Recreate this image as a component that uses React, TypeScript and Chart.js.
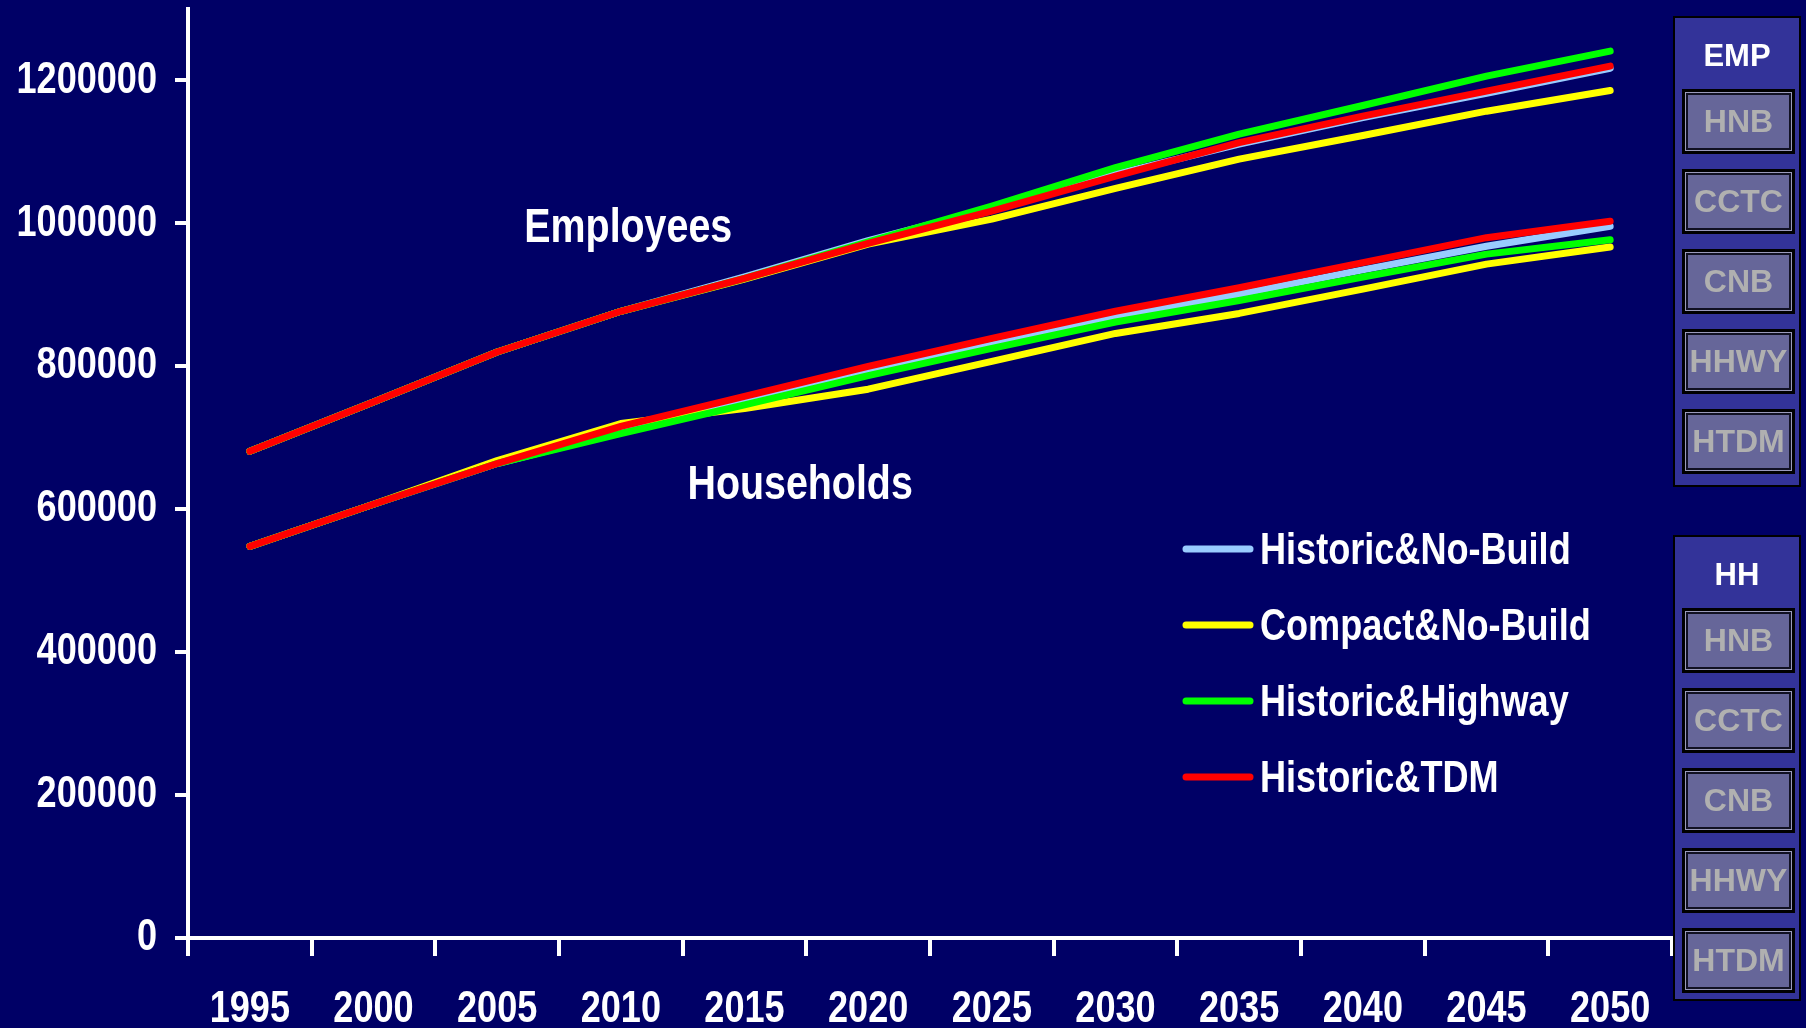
import React, { useEffect, useRef } from 'react';
import { Chart, registerables } from 'chart.js';

Chart.register(...registerables);

const years = ['1995', '2000', '2005', '2010', '2015', '2020', '2025', '2030', '2035', '2040', '2045', '2050'];

const seriesNames = ['Historic&No-Build', 'Compact&No-Build', 'Historic&Highway', 'Historic&TDM'];
const seriesColors = ['#99CCFF', '#FFFF00', '#00FF00', '#FF0000'];
const seriesOrder = [4, 3, 2, 1];

// Employees
const empHNB = [681000, 750000, 820000, 877000, 925000, 976000, 1021000, 1069000, 1111000, 1148000, 1182000, 1217000];
const empCCTC = [681000, 750000, 820000, 877000, 922000, 971000, 1006000, 1049000, 1090000, 1123000, 1157000, 1186000];
const empHHWY = [681000, 750000, 820000, 877000, 923000, 974000, 1024000, 1078000, 1125000, 1165000, 1206000, 1241000];
const empHTDM = [681000, 750000, 820000, 877000, 923000, 972000, 1017000, 1066000, 1113000, 1150000, 1185000, 1220000];

// Households
const hhHNB = [548000, 607000, 664000, 708000, 752000, 793000, 830000, 869000, 901000, 935000, 968000, 996000];
const hhCCTC = [548000, 607000, 668000, 720000, 741000, 768000, 807000, 846000, 874000, 908000, 943000, 967000];
const hhHHWY = [548000, 607000, 664000, 706000, 746000, 787000, 825000, 862000, 892000, 925000, 957000, 977000];
const hhHTDM = [548000, 607000, 664000, 716000, 758000, 800000, 839000, 877000, 910000, 945000, 980000, 1003000];

const empSeries = [empHNB, empCCTC, empHHWY, empHTDM];
const hhSeries = [hhHNB, hhCCTC, hhHHWY, hhHTDM];

const yTickValues = [0, 200000, 400000, 600000, 800000, 1000000, 1200000];

const groupLabels = ['Employees', 'Households'];
// anchor: [category index, value] of text centre / baseline
const groupAnchors: [number, number][] = [[3.06, 974000], [4.45, 615000]];

const empButtons = ['HNB', 'CCTC', 'CNB', 'HHWY', 'HTDM'];
const hhButtons = ['HNB', 'CCTC', 'CNB', 'HHWY', 'HTDM'];

const WIDE = '"Liberation Sans", Arial, sans-serif';
const NARROW_SCALE = 0.82;
const BG = '#000066';

function narrowText(ctx: any, text: string, x: number, y: number, size: number, align: 'left' | 'center' | 'right', baseline: string) {
  ctx.save();
  ctx.font = `bold ${size}px ${WIDE}`;
  ctx.textAlign = align;
  ctx.textBaseline = baseline;
  ctx.translate(x, y);
  ctx.scale(NARROW_SCALE, 1);
  ctx.fillText(text, 0, 0);
  ctx.restore();
}

const overlayPlugin = {
  id: 'overlay',
  afterDraw(chart: any) {
    const ctx = chart.ctx;
    const xs = chart.scales.x;
    const ys = chart.scales.y;
    const area = chart.chartArea;
    ctx.save();
    ctx.fillStyle = '#FFFFFF';
    // y tick labels
    ys.ticks.forEach((t: any) => {
      narrowText(ctx, String(t.value), area.left - 31, ys.getPixelForValue(t.value), 44, 'right', 'middle');
    });
    // x tick labels
    xs.getLabels().forEach((lab: string, i: number) => {
      narrowText(ctx, lab, xs.getPixelForTick(i), area.bottom + 84, 44, 'center', 'alphabetic');
    });
    // group annotations
    groupLabels.forEach((t, i) => {
      const [ci, v] = groupAnchors[i];
      narrowText(ctx, t, xs.getPixelForValue(ci), ys.getPixelForValue(v), 48, 'center', 'alphabetic');
    });
    // legend
    const lx0 = 1186;
    const lx1 = 1250;
    const ly0 = 549;
    const step = 76;
    seriesNames.forEach((name, i) => {
      const y = ly0 + i * step;
      ctx.strokeStyle = seriesColors[i];
      ctx.lineWidth = 7;
      ctx.lineCap = 'round';
      ctx.beginPath();
      ctx.moveTo(lx0, y);
      ctx.lineTo(lx1, y);
      ctx.stroke();
      ctx.fillStyle = '#FFFFFF';
      narrowText(ctx, name, 1260, y + 15, 44, 'left', 'alphabetic');
    });
    ctx.restore();
  },
};

function Panel({ title, top, height, buttons }: { title: string; top: number; height: number; buttons: string[] }) {
  return (
    <>
      <div
        style={{
          position: 'absolute',
          left: 1673,
          top,
          width: 128,
          height,
          background: '#333399',
          border: '2px solid #000',
          boxSizing: 'border-box',
        }}
      />
      <div
        style={{
          position: 'absolute',
          left: 1673,
          top: top + 22,
          width: 128,
          height: 36,
          lineHeight: '36px',
          textAlign: 'center',
          color: '#FFFFFF',
          fontFamily: WIDE,
          fontWeight: 'bold',
          fontSize: 31,
        }}
      >
        {title}
      </div>
      {buttons.map((b, i) => (
        <div
          key={b + i}
          style={{
            position: 'absolute',
            left: 1682,
            top: top + 73 + i * 80,
            width: 113,
            height: 65,
            boxSizing: 'border-box',
            border: '3px solid #000',
            background: '#666699',
            boxShadow: 'inset 0 0 0 1px #9a9abb, inset 0 0 0 3px #111122',
            color: '#B0B0B0',
            fontFamily: WIDE,
            fontWeight: 'bold',
            fontSize: 32,
            lineHeight: '59px',
            textAlign: 'center',
          }}
        >
          {b}
        </div>
      ))}
    </>
  );
}

export default function App() {
  const ref = useRef<HTMLCanvasElement | null>(null);

  useEffect(() => {
    if (!ref.current) return;
    const datasets: any[] = [];
    seriesNames.forEach((name, i) => {
      datasets.push({
        label: name + ' (EMP)',
        data: empSeries[i],
        borderColor: seriesColors[i],
        backgroundColor: seriesColors[i],
        order: seriesOrder[i],
      });
      datasets.push({
        label: name + ' (HH)',
        data: hhSeries[i],
        borderColor: seriesColors[i],
        backgroundColor: seriesColors[i],
        order: seriesOrder[i],
      });
    });
    const chart = new Chart(ref.current, {
      type: 'line',
      data: { labels: years, datasets },
      plugins: [overlayPlugin],
      options: {
        responsive: false,
        animation: false,
        devicePixelRatio: 1,
        layout: { padding: { left: 175, top: 9, right: 4, bottom: 72 } },
        plugins: { legend: { display: false }, tooltip: { enabled: false } },
        elements: {
          point: { radius: 0, hoverRadius: 0 },
          line: { borderWidth: 7, borderCapStyle: 'round', borderJoinStyle: 'round', tension: 0, fill: false },
        },
        scales: {
          x: {
            type: 'category',
            offset: true,
            grid: {
              offset: true,
              drawOnChartArea: false,
              drawTicks: true,
              tickLength: 18,
              lineWidth: 4,
              color: '#FFFFFF',
            },
            border: { display: true, color: '#FFFFFF', width: 4 },
            ticks: { display: false, autoSkip: false },
          },
          y: {
            min: 0,
            max: 1300000,
            grid: {
              drawOnChartArea: false,
              drawTicks: true,
              tickLength: 13,
              lineWidth: 4,
              color: '#FFFFFF',
            },
            border: { display: true, color: '#FFFFFF', width: 4 },
            ticks: { display: false },
            afterBuildTicks: (s: any) => {
              s.ticks = yTickValues.map((v) => ({ value: v }));
            },
          },
        },
      } as any,
    });
    return () => chart.destroy();
  }, []);

  return (
    <div style={{ position: 'fixed', left: 0, top: 0, width: '100vw', height: '100vh', background: BG, overflow: 'hidden' }}>
      <canvas ref={ref} width={1676} height={1028} style={{ position: 'absolute', left: 0, top: 0, width: 1676, height: 1028 }} />
      <Panel title="EMP" top={16} height={471} buttons={empButtons} />
      <Panel title="HH" top={535} height={466} buttons={hhButtons} />
    </div>
  );
}
